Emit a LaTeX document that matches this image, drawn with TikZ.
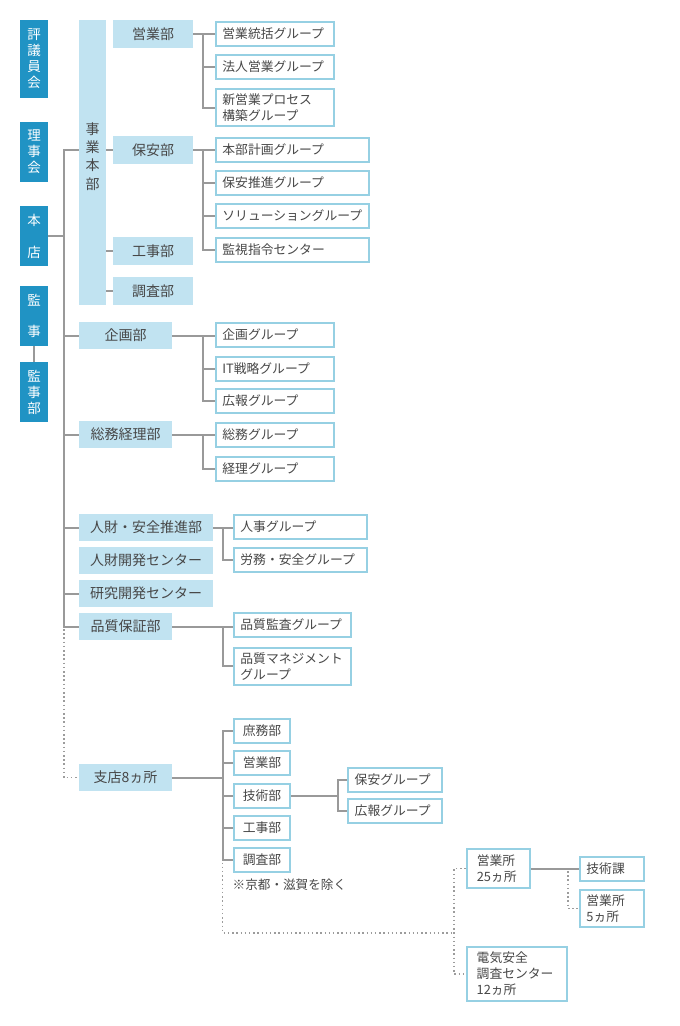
\documentclass[tikz,border=0pt]{standalone}
\usepackage{fontspec}
\setmainfont{Noto Sans CJK JP}
\usetikzlibrary{backgrounds}
\definecolor{dkblue}{HTML}{2093C4}
\definecolor{ltblue}{HTML}{C1E3F1}
\definecolor{bdblue}{HTML}{96D0E3}
\definecolor{lngray}{HTML}{999999}
\definecolor{dtgray}{HTML}{9C9C9C}
\definecolor{txt}{HTML}{474747}
\begin{document}
\begin{tikzpicture}[x=1pt,y=-1pt,
  side/.style={fill=dkblue, text=white, inner sep=0pt, minimum width=28pt,
    font=\fontsize{13.5}{16}\selectfont, align=center},
  dept/.style={fill=ltblue, text=txt, inner sep=0pt,
    font=\fontsize{14}{17}\selectfont, align=center},
  grp/.style={draw=bdblue, line width=2pt, fill=white, text=txt,
    inner ysep=0pt, inner xsep=6.4pt, minimum height=24pt,
    font=\fontsize{12.8}{16}\selectfont, align=left},
  ln/.style={draw=lngray, line width=2pt, line cap=rect},
  dt/.style={draw=dtgray, line width=1.6pt, dash pattern=on 1.5pt off 2.7pt}]
\useasboundingbox (0,0) rectangle (680,1026);

% helper x positions
\coordinate (tr) at (64,0);
\coordinate (v1) at (203.3,0);
\coordinate (v2) at (222.5,0);
\coordinate (v4) at (338.3,0);
\coordinate (v5) at (567.7,0);
\coordinate (dd) at (454,932.7);

% left column
\node[side, minimum height=78pt] (hyo) at (34,59) {評\\議\\員\\会};
\node[side, minimum height=60pt] (rij) at (34,152) {理\\事\\会};
\node[side, minimum height=60pt] (hon) at (34,236) {本\\[16pt]店};
\node[side, minimum height=60pt] (kan) at (34,316) {監\\[15pt]事};
\node[side, minimum height=60pt] (kanb) at (34,392) {監\\事\\部};

% 事業本部
\node[dept, minimum width=27pt, minimum height=285pt,
  font=\fontsize{14}{18.3}\selectfont] (jig) at (92.5,162.5) {事\\業\\本\\部\\[-5pt]\mbox{}};
\node[dept, minimum width=80pt, minimum height=28pt] (eig) at (153,34) {営業部};
\node[dept, minimum width=80pt, minimum height=28pt] (hoa) at (153,150) {保安部};
\node[dept, minimum width=80pt, minimum height=28pt] (koj) at (153,251) {工事部};
\node[dept, minimum width=80pt, minimum height=28pt] (cho) at (153,291) {調査部};

\node[grp, text width=105.2pt] (g1) at (275,33.5) {営業統括グループ};
\node[grp, text width=105.2pt] (g2) at (275,67) {法人営業グループ};
\node[grp, text width=105.2pt, minimum height=36.5pt] (g3) at (275,107.7) {新営業プロセス\\構築グループ};

\node[grp, text width=140.2pt] (h1) at (292.5,150) {本部計画グループ};
\node[grp, text width=140.2pt] (h2) at (292.5,183) {保安推進グループ};
\node[grp, text width=140.2pt] (h3) at (292.5,216) {ソリューショングループ};
\node[grp, text width=140.2pt] (h4) at (292.5,249.5) {監視指令センター};

% 企画部
\node[dept, minimum width=93pt, minimum height=27pt] (kik) at (125.5,335.5) {企画部};
\node[grp, text width=105.2pt] (k1) at (275,335) {企画グループ};
\node[grp, text width=105.2pt] (k2) at (275,368.5) {IT戦略グループ};
\node[grp, text width=105.2pt] (k3) at (275,401) {広報グループ};

% 総務経理部
\node[dept, minimum width=93pt, minimum height=27pt] (som) at (125.5,434.5) {総務経理部};
\node[grp, text width=105.2pt] (s1) at (275,435) {総務グループ};
\node[grp, text width=105.2pt] (s2) at (275,468.5) {経理グループ};

% 人財 etc.
\node[dept, minimum width=134pt, minimum height=27pt] (jin) at (146,527.5) {人財・安全推進部};
\node[dept, minimum width=134pt, minimum height=27pt] (jkc) at (146,560.5) {人財開発センター};
\node[dept, minimum width=134pt, minimum height=27pt] (kkc) at (146,593.5) {研究開発センター};
\node[grp, text width=120.2pt] (j1) at (300.5,527) {人事グループ};
\node[grp, text width=120.2pt] (j2) at (300.5,560) {労務・安全グループ};

% 品質保証部
\node[dept, minimum width=93pt, minimum height=27pt] (hin) at (125.5,626.5) {品質保証部};
\node[grp, text width=104.2pt] (q1) at (292.5,625) {品質監査グループ};
\node[grp, text width=104.2pt, minimum height=37.5pt] (q2) at (292.5,666.3) {品質マネジメント\\グループ};

% 支店
\node[dept, minimum width=93pt, minimum height=27pt] (shi) at (125.5,777.5) {支店8ヵ所};
\node[grp, text width=43.2pt, align=center] (b1) at (262,731) {庶務部};
\node[grp, text width=43.2pt, align=center] (b2) at (262,763) {営業部};
\node[grp, text width=43.2pt, align=center] (b3) at (262,795.5) {技術部};
\node[grp, text width=43.2pt, align=center] (b4) at (262,828) {工事部};
\node[grp, text width=43.2pt, align=center] (b5) at (262,860) {調査部};
\node[anchor=west, inner sep=0pt, text=txt, font=\fontsize{12.6}{16}\selectfont] (note) at (232.5,885) {※京都・滋賀を除く};
\node[grp, text width=81.2pt] (t1) at (395.3,779.5) {保安グループ};
\node[grp, text width=81.2pt] (t2) at (395.3,811) {広報グループ};

\node[grp, inner xsep=10pt, text width=43.3pt, minimum height=39.6pt] (e1) at (498.4,868.5) {営業所\\25ヵ所};
\node[grp, text width=51.2pt] (e2) at (612,868.5) {技術課};
\node[grp, text width=51.2pt, minimum height=37.6pt] (e3) at (612,908.5) {営業所\\5ヵ所};
\node[grp, inner xsep=10pt, text width=80pt, minimum height=53.4pt] (e4) at (516.7,974) {電気安全\\調査センター\\12ヵ所};

\begin{pgfonlayer}{background}
% left column
\draw[ln] (kan.south) -- (kanb.north);
\draw[ln] (hon.east) -- (hon.east -| tr);
% trunk
\draw[ln] (tr |- hoa) -- (tr |- hin);
\draw[ln] (tr |- hoa) -- (jig.west |- hoa);
\draw[ln] (tr |- kik) -- (kik.west);
\draw[ln] (tr |- som) -- (som.west);
\draw[ln] (tr |- jin) -- (jin.west);
\draw[ln] (tr |- kkc) -- (kkc.west);
\draw[ln] (tr |- hin) -- (hin.west);
\draw[dt] (tr |- hin) ++(0,2.5) -- (tr |- shi) -- (shi.west);
% 事業本部
\draw[ln] (jig.east |- hoa) -- (hoa.west);
\draw[ln] (jig.east |- koj) -- (koj.west);
\draw[ln] (jig.east |- cho) -- (cho.west);
% 営業部
\draw[ln] (eig.east) -- (eig.east -| g1.west);
\draw[ln] (v1 |- eig) -- (v1 |- g3) -- (g3.west);
\draw[ln] (v1 |- g2) -- (g2.west);
% 保安部
\draw[ln] (hoa.east) -- (h1.west);
\draw[ln] (v1 |- hoa) -- (v1 |- h4) -- (h4.west);
\draw[ln] (v1 |- h2) -- (h2.west);
\draw[ln] (v1 |- h3) -- (h3.west);
% 企画部
\draw[ln] (kik.east) -- (kik.east -| k1.west);
\draw[ln] (v1 |- kik) -- (v1 |- k3) -- (k3.west);
\draw[ln] (v1 |- k2) -- (k2.west);
% 総務経理部
\draw[ln] (som.east) -- (som.east -| s1.west);
\draw[ln] (v1 |- som) -- (v1 |- s2) -- (s2.west);
% 人財・安全推進部
\draw[ln] (jin.east) -- (jin.east -| j1.west);
\draw[ln] (v2 |- jin) -- (v2 |- j2) -- (j2.west);
% 品質保証部
\draw[ln] (hin.east) -- (hin.east -| q1.west);
\draw[ln] (v2 |- hin) -- (v2 |- q2) -- (q2.west);
% 支店
\draw[ln] (shi.east) -- (shi.east -| v2);
\draw[ln] (v2 |- b1) -- (v2 |- b5);
\draw[ln] (v2 |- b1) -- (b1.west);
\draw[ln] (v2 |- b2) -- (b2.west);
\draw[ln] (v2 |- b3) -- (b3.west);
\draw[ln] (v2 |- b4) -- (b4.west);
\draw[ln] (v2 |- b5) -- (b5.west);
\draw[ln] (b3.east) -- (b3.east -| v4);
\draw[ln] (v4 |- t1) -- (v4 |- t2);
\draw[ln] (v4 |- t1) -- (t1.west);
\draw[ln] (v4 |- t2) -- (t2.west);
\draw[dt] (v2 |- b5) ++(0,2.5) -- (v2 |- dd) -- (dd);
\draw[dt] (e1.west) -- (e1.west -| dd) -- (e4.west -| dd) -- (e4.west);
% 営業所
\draw[ln] (e1.east) -- (e2.west);
\draw[dt] (v5 |- e1) ++(0,2.5) -- (v5 |- e3) -- (e3.west);
\end{pgfonlayer}
\end{tikzpicture}
\end{document}
